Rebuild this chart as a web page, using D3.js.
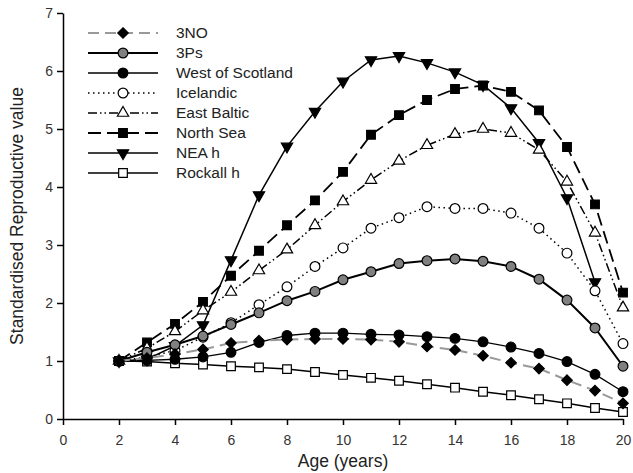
<!DOCTYPE html>
<html lang="en">

<head>
    <meta charset="UTF-8">
    <title>Standardised Reproductive value</title>
    <style>
        body,
        html {
            margin: 0;
            padding: 0;
            background: #fff;
            font-family: "Liberation Sans", Arial, sans-serif;
        }

        .axis text {
            font-size: 14px;
            fill: #333;
        }

        .axis path,
        .axis line {
            stroke: #000;
            stroke-width: 1.5;
        }
    </style>
</head>

<body>
    <svg id="svg" width="633" height="473"></svg>

    <script src="https://d3js.org/d3.v7.min.js"></script>
    <script>
        // ages on the x axis
        const ages = [2, 3, 4, 5, 6, 7, 8, 9, 10, 11, 12, 13, 14, 15, 16, 17, 18, 19, 20];

        // series values (one per age)
        const threeNO = [1.0, 1.05, 1.12, 1.2, 1.31, 1.35, 1.37, 1.38, 1.38, 1.37, 1.33, 1.25, 1.19, 1.09, 0.97, 0.87, 0.67, 0.49, 0.27];
        const threePs = [1.0, 1.15, 1.28, 1.43, 1.63, 1.83, 2.04, 2.2, 2.4, 2.54, 2.68, 2.73, 2.76, 2.72, 2.63, 2.41, 2.05, 1.57, 0.91];
        const westScotland = [1.0, 1.01, 1.03, 1.07, 1.15, 1.32, 1.44, 1.48, 1.48, 1.46, 1.45, 1.42, 1.39, 1.33, 1.24, 1.13, 0.99, 0.77, 0.47];
        const icelandic = [1.0, 1.07, 1.18, 1.41, 1.66, 1.97, 2.28, 2.63, 2.95, 3.29, 3.47, 3.66, 3.63, 3.63, 3.55, 3.29, 2.86, 2.21, 1.3];
        const eastBaltic = [1.0, 1.22, 1.51, 1.87, 2.19, 2.56, 2.92, 3.34, 3.75, 4.12, 4.45, 4.72, 4.91, 5.0, 4.93, 4.64, 4.09, 3.21, 1.92];
        const northSea = [1.0, 1.32, 1.64, 2.02, 2.47, 2.9, 3.34, 3.77, 4.26, 4.9, 5.24, 5.5, 5.69, 5.75, 5.64, 5.32, 4.69, 3.7, 2.18];
        const neaH = [1.0, 1.03, 1.26, 1.62, 2.74, 3.86, 4.7, 5.3, 5.82, 6.19, 6.26, 6.14, 5.98, 5.76, 5.36, 4.76, 3.81, 2.36, null];
        const rockallH = [1.0, 0.99, 0.96, 0.94, 0.91, 0.89, 0.86, 0.81, 0.76, 0.71, 0.66, 0.6, 0.54, 0.47, 0.41, 0.34, 0.27, 0.19, 0.12];

        const seriesNames = ["3NO", "3Ps", "West of Scotland", "Icelandic", "East Baltic", "North Sea", "NEA h", "Rockall h"];
        const seriesValues = [threeNO, threePs, westScotland, icelandic, eastBaltic, northSea, neaH, rockallH];

        // tick labels
        const xTicks = [0, 2, 4, 6, 8, 10, 12, 14, 16, 18, 20];
        const yTicks = [0, 1, 2, 3, 4, 5, 6, 7];

        // drawing styles for each series
        const styles = {
            "3NO": { stroke: "#999", width: 2, dash: "11,6", symbol: d3.symbolDiamond2, size: 70, fill: "#000" },
            "3Ps": { stroke: "#000", width: 2, dash: null, symbol: d3.symbolCircle, size: 75, fill: "#808080" },
            "West of Scotland": { stroke: "#000", width: 1.3, dash: null, symbol: d3.symbolCircle, size: 75, fill: "#000" },
            "Icelandic": { stroke: "#000", width: 1.5, dash: "1.5,3.5", symbol: d3.symbolCircle, size: 75, fill: "#fff" },
            "East Baltic": { stroke: "#000", width: 1.5, dash: "9,3,1.5,3,1.5,3", symbol: d3.symbolTriangle, size: 55, fill: "#fff" },
            "North Sea": { stroke: "#000", width: 1.8, dash: "13,6", symbol: d3.symbolSquare, size: 75, fill: "#000" },
            "NEA h": { stroke: "#000", width: 1.5, dash: null, symbol: d3.symbolTriangle, size: 55, fill: "#000", flip: true },
            "Rockall h": { stroke: "#000", width: 1.5, dash: null, symbol: d3.symbolSquare, size: 75, fill: "#fff" }
        };

        const margin = { top: 13, right: 10, bottom: 54, left: 63 };
        const width = 633 - (margin.left + margin.right);
        const height = 473 - (margin.top + margin.bottom);

        const svg = d3.select('#svg');

        const xscale = d3.scaleLinear()
            .domain([0, 20])
            .range([margin.left, margin.left + width]);

        const yscale = d3.scaleLinear()
            .domain([0, 7])
            .range([margin.top + height, margin.top]);

        // axes
        svg.append('g')
            .attr('class', 'axis')
            .attr('transform', `translate(0, ${margin.top + height})`)
            .call(d3.axisBottom(xscale).tickValues(xTicks).tickFormat(d3.format('d'))
                .tickSize(6).tickSizeOuter(0).tickPadding(10));

        svg.append('g')
            .attr('class', 'axis')
            .attr('transform', `translate(${margin.left}, 0)`)
            .call(d3.axisLeft(yscale).tickValues(yTicks).tickFormat(d3.format('d'))
                .tickSize(6).tickSizeOuter(0).tickPadding(4));

        svg.selectAll('.axis .domain').attr('stroke-width', 2);

        // series lines and markers
        const line = d3.line()
            .defined(d => d[1] != null)
            .x(d => xscale(d[0]))
            .y(d => yscale(d[1]));

        function symbolPath(st) {
            return d3.symbol().type(st.symbol).size(st.size)();
        }

        function drawMarker(g, st, x, y) {
            g.append('path')
                .attr('d', symbolPath(st))
                .attr('transform', `translate(${x}, ${y})` + (st.flip ? ' rotate(180)' : ''))
                .attr('fill', st.fill)
                .attr('stroke', '#000')
                .attr('stroke-width', 1.2);
        }

        // draw in reverse so 3NO ends up on top
        seriesNames.slice().reverse().forEach(name => {
            const vals = seriesValues[seriesNames.indexOf(name)];
            const st = styles[name];
            const pts = ages.map((a, i) => [a, vals[i]]);
            const g = svg.append('g');

            g.append('path')
                .datum(pts)
                .attr('fill', 'none')
                .attr('stroke', st.stroke)
                .attr('stroke-width', st.width)
                .attr('stroke-dasharray', st.dash)
                .attr('d', line);

            pts.filter(d => d[1] != null).forEach(d => {
                drawMarker(g, st, xscale(d[0]), yscale(d[1]));
            });
        });

        // legend
        const legend = svg.append('g');
        seriesNames.forEach((name, i) => {
            const st = styles[name];
            const y = 33 + i * 20;
            legend.append('line')
                .attr('x1', 88)
                .attr('x2', 158)
                .attr('y1', y)
                .attr('y2', y)
                .attr('stroke', st.stroke)
                .attr('stroke-width', st.width)
                .attr('stroke-dasharray', st.dash);
            drawMarker(legend, st, 123, y);
            legend.append('text')
                .attr('x', 176)
                .attr('y', y)
                .attr('dy', '0.35em')
                .style('font-size', '15.5px')
                .style('fill', '#222')
                .text(name);
        });

        // axis titles
        svg.append('text')
            .attr('x', xscale(10))
            .attr('y', 467)
            .style('text-anchor', 'middle')
            .style('font-size', '17.5px')
            .style('fill', '#222')
            .text('Age (years)');

        svg.append('text')
            .attr('transform', 'rotate(-90)')
            .attr('x', -yscale(3.5))
            .attr('y', 23)
            .style('text-anchor', 'middle')
            .style('font-size', '17.5px')
            .style('fill', '#222')
            .text('Standardised Reproductive value');
    </script>
</body>

</html>
